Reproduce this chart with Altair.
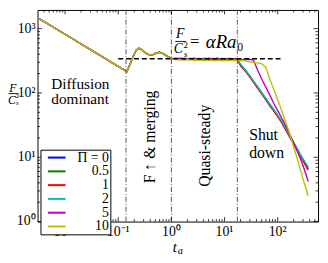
import altair as alt
import pandas as pd

# ---------------- data ----------------
series_names = ["0", "0.5", "1", "2", "5", "10"]
series_colors = ["#0000ff", "#008000", "#ff0000", "#00bfbf", "#bf00bf", "#bfbf00"]
legend_labels = ["Π = 0", "0.5", "1", "2", "5", "10"]

t_early = [0.0033, 0.01, 0.03, 0.1, 0.145, 0.16, 0.19, 0.22, 0.245, 0.28, 0.33, 0.39, 0.45, 0.52, 0.6, 0.7, 0.85]
F_early = [1423, 818, 472, 259, 215, 255, 370, 465, 495, 470, 415, 388, 395, 418, 430, 408, 368]

t_late = [1.0, 1.2, 1.5, 1.8, 2.2, 2.7, 3.3, 4, 5, 6, 7.5, 9, 11, 13, 15, 17.4, 20, 25, 30, 35,
          42, 50, 60, 70, 85, 100, 113, 135, 160, 195, 230, 270, 300, 340, 374]
F_pi0 = [345, 340, 332, 338, 344, 335, 330, 340, 336, 344, 332, 338, 345, 336, 340, 338, 275, 222, 180, 150,
         121, 99, 79, 66, 53, 43.5, 37.7, 29, 22.6, 16.9, 13.3, 10.5, 9.0, 7.5, 6.5]
F_pi05 = [342, 346, 336, 330, 340, 348, 336, 333, 342, 338, 346, 332, 340, 344, 334, 340, 270, 220, 183, 152,
          124, 101, 81, 68, 54, 44.5, 38.5, 30, 23.5, 17.5, 13.8, 10.8, 9.3, 7.9, 6.9]
F_pi1 = [338, 342, 348, 334, 338, 330, 344, 336, 330, 340, 336, 345, 333, 340, 338, 336, 265, 215, 176, 146,
         118, 97, 78, 64, 52, 42.5, 37, 28.5, 22, 16.5, 13, 10.2, 8.8, 7.3, 6.3]
F_pi2 = [344, 336, 340, 346, 333, 340, 338, 348, 340, 332, 343, 336, 338, 330, 344, 340, 280, 226, 184, 153,
         124, 101, 82, 68, 55, 45, 39, 30.5, 23.5, 17.5, 13.8, 10.9, 9.4, 8.0, 7.0]
F_pi5 = [340, 334, 344, 338, 330, 342, 336, 332, 346, 338, 334, 340, 336, 342, 338, 340, 336, 332, 334, 325,
         225, 165, 122, 95, 68, 53, 44, 33.5, 25, 17.5, 12.8, 9.3, 7.4, 5.5, 4.2]
F_pi10 = [335, 330, 328, 325, 330, 322, 326, 320, 324, 318, 322, 316, 320, 318, 322, 320, 318, 312, 305, 298,
          293, 285, 250, 170, 112, 78, 60, 39, 26.5, 15.5, 9.8, 6.2, 4.6, 3.3, 2.5]
late_values = [F_pi0, F_pi05, F_pi1, F_pi2, F_pi5, F_pi10]

plateau_level = 341
plateau_span = [0.1, 113]
regime_bounds = [0.14, 1.0, 17.4]

x_major = [0.01, 0.1, 1, 10, 100]
y_major = [1, 10, 100, 1000]
x_labels = ["10⁻²", "10⁻¹", "10⁰", "10¹", "10²"]
y_labels = ["10⁰", "10¹", "10²", "10³"]

# ---------------- layout ----------------
W, H = 285, 215
X_DOMAIN = [0.00303, 574]
Y_DOMAIN = [1, 1954]
SERIF = "Liberation Serif"

rows = []
for name, late in zip(series_names, late_values):
    for t, f in zip(t_early + t_late, F_early + late):
        rows.append({"t": t, "F": f, "series": name})
df = pd.DataFrame(rows)

xscale = alt.Scale(type="log", domain=X_DOMAIN, nice=False)
yscale = alt.Scale(type="log", domain=Y_DOMAIN, nice=False)


def cond_expr(field, keys, labels):
    expr = "''"
    for k, lab in reversed(list(zip(keys, labels))):
        expr = f"{field} == '{k}' ? '{lab}' : ({expr})"
    return expr


leg_expr = cond_expr("datum.label", series_names, legend_labels)

lines = alt.Chart(df).mark_line(strokeWidth=1.4, clip=True).encode(
    x=alt.X("t:Q", scale=xscale, axis=None),
    y=alt.Y("F:Q", scale=yscale, axis=None),
    color=alt.Color("series:N", scale=alt.Scale(domain=series_names, range=series_colors),
                    legend=alt.Legend(title=None, orient="none", legendX=3, legendY=142, direction="vertical",
                                      fillColor="white", strokeColor="black", cornerRadius=0, padding=1,
                                      symbolType="M-2,0H2", symbolSize=81, symbolStrokeWidth=2,
                                      symbolOffset=8.5, labelAlign="right",
                                      labelFont=SERIF, labelFontSize=14, labelColor="black", labelOffset=46,
                                      rowPadding=-3, labelExpr=leg_expr, labelLimit=300)),
)

vlines = alt.Chart(pd.DataFrame({"t": regime_bounds})).mark_rule(
    color="#555555", strokeWidth=1, strokeDash=[5, 2, 1, 2]).encode(
    x=alt.X("t:Q", scale=xscale, axis=None), y=alt.value(0), y2=alt.value(H))

hline = alt.Chart(pd.DataFrame({"t": [plateau_span[0]], "t2": [plateau_span[1]], "F": [plateau_level]})).mark_rule(
    color="black", strokeWidth=1.5, strokeDash=[5, 3]).encode(
    x=alt.X("t:Q", scale=xscale, axis=None), x2="t2:Q", y=alt.Y("F:Q", scale=yscale, axis=None))

# tick marks (inside, on all four sides)
x_minor = [m * 10 ** k for k in range(-3, 3) for m in range(2, 10) if X_DOMAIN[0] < m * 10 ** k < X_DOMAIN[1]]
y_minor = [m * 10 ** k for k in range(0, 4) for m in range(2, 10) if Y_DOMAIN[0] < m * 10 ** k < Y_DOMAIN[1]]


def xticks(vals, ln):
    base = alt.Chart(pd.DataFrame({"t": vals})).mark_rule(color="black", strokeWidth=0.8)
    enc = dict(x=alt.X("t:Q", scale=xscale, axis=None))
    return [base.encode(y=alt.value(H), y2=alt.value(H - ln), **enc),
            base.encode(y=alt.value(0), y2=alt.value(ln), **enc)]


def yticks(vals, ln):
    base = alt.Chart(pd.DataFrame({"F": vals})).mark_rule(color="black", strokeWidth=0.8)
    enc = dict(y=alt.Y("F:Q", scale=yscale, axis=None))
    return [base.encode(x=alt.value(0), x2=alt.value(ln), **enc),
            base.encode(x=alt.value(W), x2=alt.value(W - ln), **enc)]


ticks = xticks(x_major, 4.5) + xticks(x_minor, 2.5) + yticks(y_major, 4.5) + yticks(y_minor, 2.5)

# tick labels, placed through the scales
xlab = alt.Chart(pd.DataFrame({"t": x_major, "lab": x_labels})).mark_text(
    font=SERIF, fontSize=14, baseline="top", align="center", color="black").encode(
    x=alt.X("t:Q", scale=xscale, axis=None), y=alt.value(H + 4), text="lab:N")
ylab = alt.Chart(pd.DataFrame({"F": y_major, "lab": y_labels})).mark_text(
    font=SERIF, fontSize=14, baseline="middle", align="right", color="black").encode(
    y=alt.Y("F:Q", scale=yscale, axis=None), x=alt.value(-2), text="lab:N")


def label(text, x, y, size=16, angle=0, align="left", style="normal", baseline="middle"):
    kw = dict(text=text, font=SERIF, fontSize=size, align=align, baseline=baseline,
              fontStyle=style, color="black")
    if angle:
        kw["angle"] = angle
    return alt.Chart(pd.DataFrame({"a": [0]})).mark_text(**kw).encode(x=alt.value(x), y=alt.value(y))


def frac_rule(x1, x2, y):
    return alt.Chart(pd.DataFrame({"a": [0]})).mark_rule(color="black", strokeWidth=0.9).encode(
        x=alt.value(x1), x2=alt.value(x2), y=alt.value(y))


texts = [
    label("Diffusion", 14, 75, size=15.5),
    label("dominant", 14, 91, size=15.5),
    label("F ↑ & merging", 114, 129, angle=270, align="center"),
    label("Quasi-steady", 170, 138, angle=270, align="center"),
    label("Shut", 215, 127),
    label("down", 215, 145),
    # formula at top
    label("F", 145, 24, size=14, align="center", style="italic"),
    frac_rule(140, 151, 32),
    label("C", 143, 40, size=14, align="center", style="italic"),
    label("2", 150.5, 35.5, size=9, align="center"),
    label("s", 150.5, 44.5, size=9, align="center", style="italic"),
    label("=", 155, 33, size=17),
    label("αRa", 171, 33, size=19, style="italic"),
    label("0", 203, 38, size=12),
    # y title
    label("F", -25, 79, size=12, align="center", style="italic"),
    frac_rule(-29.5, -19.5, 85),
    label("C", -26, 92, size=12, align="center", style="italic"),
    label("2", -20.5, 87, size=7, align="center"),
    label("s", -20.5, 95, size=7, align="center", style="italic"),
    # x title
    label("t", 139.5, 246, size=15, align="center", style="italic", baseline="alphabetic"),
    label("a", 145, 247.5, size=10.5, align="center", style="italic", baseline="alphabetic"),
]

chart = alt.layer(lines, vlines, hline, *ticks, xlab, ylab, *texts).properties(
    width=W, height=H,
    autosize=alt.AutoSizeParams(type="none"),
    padding={"left": 30, "top": 0, "right": 2, "bottom": 32},
).configure_view(stroke="black", strokeWidth=1)

chart.save("out.html", embed_options={"renderer": "svg", "actions": False})
